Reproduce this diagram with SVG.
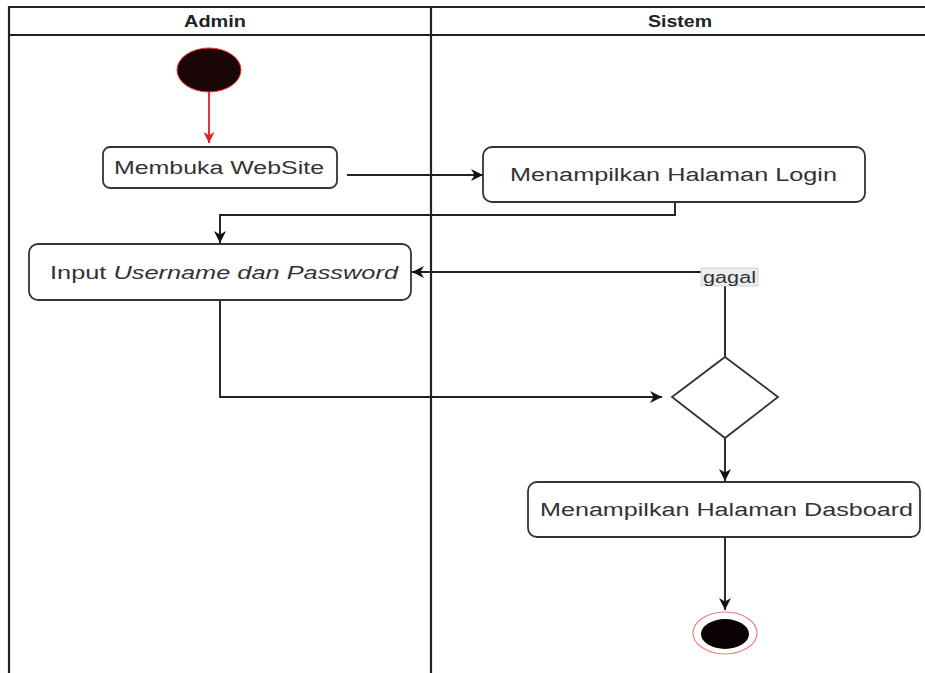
<svg xmlns="http://www.w3.org/2000/svg" width="925" height="673" viewBox="0 0 925 673">
<style>
.lane{fill:none;stroke:#222;stroke-width:2.2}
.box{fill:#fff;stroke:#333;stroke-width:1.8}
.t{font-family:"Liberation Sans",Arial,sans-serif;font-size:18px;fill:#333}
.h{font-family:"Liberation Sans",Arial,sans-serif;font-size:17px;font-weight:bold;fill:#222}
.c{fill:none;stroke:#222;stroke-width:1.9}
</style>
<defs>
<marker id="ab" viewBox="0 0 10 10" refX="10" refY="5" markerWidth="12" markerHeight="12" markerUnits="userSpaceOnUse" orient="auto"><path d="M0,0 L10,5 L0,10 L3,5 Z" fill="#111"/></marker>
<marker id="ar" viewBox="0 0 10 10" refX="10" refY="5" markerWidth="11" markerHeight="11" markerUnits="userSpaceOnUse" orient="auto"><path d="M0,0 L10,5 L0,10 L3,5 Z" fill="#e02020"/></marker>
</defs>
<rect width="925" height="673" fill="#fff"/>
<g id="lanes">
<path class="lane" d="M9,673 V7 H925 M9,35 H925 M431,7 V673"/>
<text class="h" x="215" y="27" text-anchor="middle" textLength="62" lengthAdjust="spacingAndGlyphs">Admin</text>
<text class="h" x="680" y="27" text-anchor="middle" textLength="64" lengthAdjust="spacingAndGlyphs">Sistem</text>
</g>
<g id="connectors">
<line x1="209" y1="92" x2="209" y2="143" stroke="#e02020" stroke-width="1.8" marker-end="url(#ar)"/>
<line class="c" x1="347" y1="175" x2="483" y2="175" marker-end="url(#ab)"/>
<polyline class="c" points="675,202 675,215 220,215 220,243" marker-end="url(#ab)"/>
<polyline class="c" points="220,300 220,397 662,397" marker-end="url(#ab)"/>
<polyline class="c" points="725,357 725,272 412,272" marker-end="url(#ab)"/>
<line class="c" x1="725" y1="438" x2="725" y2="481" marker-end="url(#ab)"/>
<line class="c" x1="725" y1="537" x2="725" y2="610" marker-end="url(#ab)"/>
<rect x="701" y="268" width="57" height="18" fill="#ececec" stroke="#ccc" stroke-width="0.8"/>
<text class="t" x="729.5" y="283" text-anchor="middle" textLength="53" lengthAdjust="spacingAndGlyphs" style="font-size:16px">gagal</text>
</g>
<g id="start">
<ellipse cx="209" cy="70" rx="32" ry="22" fill="#1a0606" stroke="#ff3030" stroke-width="1"/>
</g>
<g id="membuka">
<rect class="box" x="103" y="147" width="234" height="41" rx="7"/>
<text class="t" x="219" y="174" text-anchor="middle" textLength="210" lengthAdjust="spacingAndGlyphs">Membuka WebSite</text>
</g>
<g id="login">
<rect class="box" x="483" y="147" width="382" height="55" rx="9"/>
<text class="t" x="673.5" y="181" text-anchor="middle" textLength="327" lengthAdjust="spacingAndGlyphs">Menampilkan Halaman Login</text>
</g>
<g id="input">
<rect class="box" x="29" y="244" width="382" height="56" rx="9"/>
<text class="t" x="224" y="279" text-anchor="middle" textLength="348" lengthAdjust="spacingAndGlyphs">Input <tspan font-style="italic">Username dan Password</tspan></text>
</g>
<g id="decision">
<polygon points="725,357 778,397 725,438 672,397" fill="#fff" stroke="#333" stroke-width="1.8"/>
</g>
<g id="dasboard">
<rect class="box" x="528" y="482" width="392" height="55" rx="9"/>
<text class="t" x="726.5" y="516" text-anchor="middle" textLength="373" lengthAdjust="spacingAndGlyphs">Menampilkan Halaman Dasboard</text>
</g>
<g id="end">
<ellipse cx="725" cy="633" rx="32" ry="21" fill="#fff" stroke="#f08080" stroke-width="1.2"/>
<ellipse cx="725" cy="634" rx="24" ry="15" fill="#0a0202"/>
</g>
</svg>
